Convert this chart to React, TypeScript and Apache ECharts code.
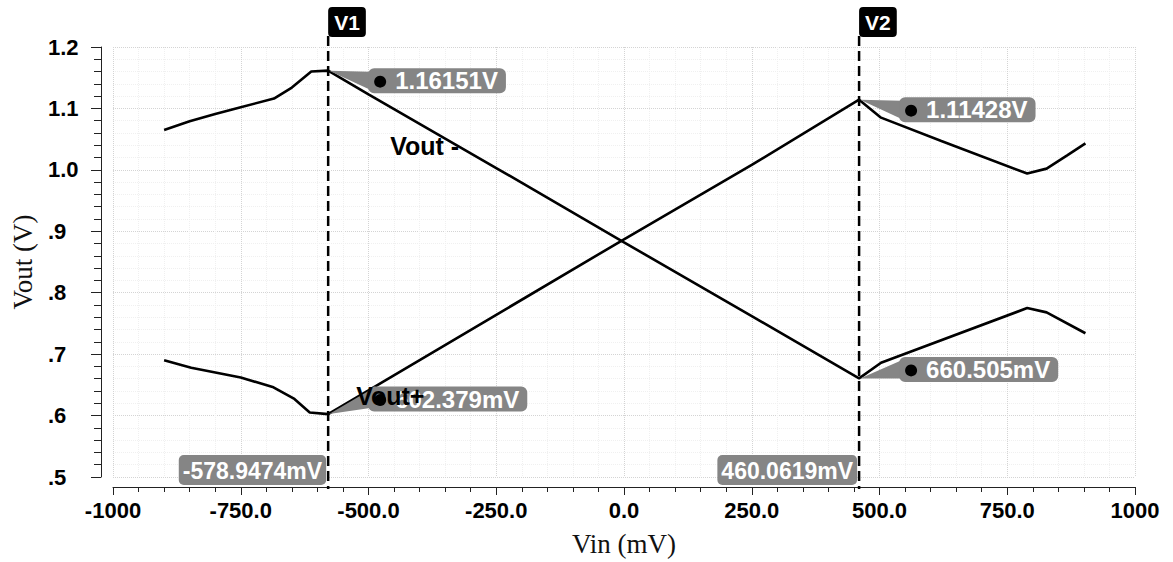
import React, { useEffect, useRef } from 'react';
import * as echarts from 'echarts';

// ---- axis ticks ----
const xTickValues = [-1000, -750, -500, -250, 0, 250, 500, 750, 1000];
const xTickLabels = ['-1000', '-750.0', '-500.0', '-250.0', '0.0', '250.0', '500.0', '750.0', '1000'];
const yTickValues = [0.5, 0.6, 0.7, 0.8, 0.9, 1.0, 1.1, 1.2];
const yTickLabels = ['.5', '.6', '.7', '.8', '.9', '1.0', '1.1', '1.2'];

// ---- series (Vin in mV, Vout in V) ----
const voutMinusX = [-900, -850, -800, -750, -685, -650, -612, -578.9474, -500, -250, 0, 250, 460.0619, 503, 789, 827, 903];
const voutMinusY = [1.065, 1.079, 1.091, 1.102, 1.116, 1.134, 1.16, 1.16151, 1.123, 1.003, 0.882, 0.762, 0.660505, 0.686, 0.775, 0.768, 0.734];
const voutPlusX = [-900, -847, -750, -686, -645, -615, -578.9474, -500, -250, 0, 250, 460.0619, 503, 621, 789, 827, 868, 903];
const voutPlusY = [0.69, 0.678, 0.662, 0.646, 0.627, 0.605, 0.602379, 0.641, 0.764, 0.887, 1.008, 1.11428, 1.085, 1.047, 0.994, 1.002, 1.024, 1.043];

// ---- cursors ----
const cursorNames = ['V1', 'V2'];
const cursorX = [-578.9474, 460.0619];
const cursorXLabels = ['-578.9474mV', '460.0619mV'];
const cursorUpperY = [1.16151, 1.11428];
const cursorUpperLabels = ['1.16151V', '1.11428V'];
const cursorLowerY = [0.602379, 0.660505];
const cursorLowerLabels = ['602.379mV', '660.505mV'];

const SANS = '"Liberation Sans", Arial, Helvetica, sans-serif';
const SERIF = '"Liberation Serif", "Times New Roman", serif';
const GRAY = '#858585';

export default function App() {
  const ref = useRef<HTMLDivElement>(null);

  useEffect(() => {
    if (!ref.current) return;
    const chart = echarts.init(ref.current, null, { renderer: 'svg' });
    const fmtX = (v: number) => {
      const i = xTickValues.findIndex((t) => Math.abs(t - v) < 1e-6);
      return i >= 0 ? xTickLabels[i] : '';
    };
    const fmtY = (v: number) => {
      const i = yTickValues.findIndex((t) => Math.abs(t - v) < 1e-6);
      return i >= 0 ? yTickLabels[i] : '';
    };
    const option: any = {
      animation: false,
      backgroundColor: '#ffffff',
      grid: { left: 113, right: 38, top: 47, bottom: 83, containLabel: false },
      xAxis: {
        type: 'value',
        min: -1000,
        max: 1000,
        interval: 250,
        offset: 10,
        name: 'Vin (mV)',
        nameLocation: 'middle',
        nameGap: 43,
        nameTextStyle: { fontFamily: SERIF, fontSize: 27, color: '#111' },
        axisLine: { show: true, onZero: false, lineStyle: { color: '#222', width: 1 } },
        axisTick: { show: true, inside: false, length: 8, lineStyle: { color: '#222' } },
        minorTick: { show: true, splitNumber: 5, length: 5, lineStyle: { color: '#222' } },
        axisLabel: { formatter: fmtX, fontFamily: SANS, fontWeight: 'bold', fontSize: 22, color: '#000', margin: 12 },
        splitLine: { show: true, lineStyle: { color: '#d4d4d4', type: 'dotted', width: 1 } },
        minorSplitLine: { show: true, lineStyle: { color: '#f0f0f0', type: 'dotted', width: 1 } },
      },
      yAxis: {
        type: 'value',
        min: 0.5,
        max: 1.2,
        interval: 0.1,
        offset: 12,
        name: 'Vout (V)',
        nameLocation: 'middle',
        nameGap: 65,
        nameTextStyle: { fontFamily: SERIF, fontSize: 27, color: '#111' },
        axisLine: { show: true, onZero: false, lineStyle: { color: '#222', width: 1 } },
        axisTick: { show: true, inside: false, length: 10, lineStyle: { color: '#222' } },
        minorTick: { show: true, splitNumber: 5, length: 7, lineStyle: { color: '#222' } },
        axisLabel: { formatter: fmtY, fontFamily: SANS, fontWeight: 'bold', fontSize: 22, color: '#000', margin: 53, align: 'left' },
        splitLine: { show: true, lineStyle: { color: '#d4d4d4', type: 'dotted', width: 1 } },
        minorSplitLine: { show: true, lineStyle: { color: '#f0f0f0', type: 'dotted', width: 1 } },
      },
      series: [
        {
          name: 'Vout -',
          type: 'line',
          data: voutMinusX.map((x, i) => [x, voutMinusY[i]]),
          showSymbol: false,
          symbol: 'none',
          lineStyle: { color: '#000', width: 2.6 },
          z: 3,
        },
        {
          name: 'Vout+',
          type: 'line',
          data: voutPlusX.map((x, i) => [x, voutPlusY[i]]),
          showSymbol: false,
          symbol: 'none',
          lineStyle: { color: '#000', width: 2.6 },
          z: 3,
        },
      ],
    };
    chart.setOption(option);

    const toPx = (x: number, y: number) => chart.convertToPixel({ gridIndex: 0 }, [x, y]) as number[];
    const axisY = toPx(0, 0.5)[1] + 10;
    const topY = 7;
    const graphics: any[] = [];

    const callout = (px: number, py: number, label: string, dy: number) => {
      const bx = px + 40;
      const by = py + dy;
      const h = 26;
      graphics.push({
        type: 'polygon',
        z: 20,
        shape: { points: [[px + 1, py], [bx + 2, by - h / 2 + 4], [bx + 2, by + h / 2 - 4]] },
        style: { fill: GRAY },
        silent: true,
      });
      graphics.push({
        type: 'text',
        z: 21,
        x: bx,
        y: by,
        style: {
          text: label,
          font: `bold 24px ${SANS}`,
          fill: '#ffffff',
          align: 'left',
          verticalAlign: 'middle',
          backgroundColor: GRAY,
          borderRadius: 6,
          padding: [1, 8, 0, 27],
        },
        silent: true,
      });
      graphics.push({
        type: 'circle',
        z: 22,
        shape: { cx: bx + 12, cy: by + 1, r: 6 },
        style: { fill: '#000' },
        silent: true,
      });
    };

    cursorX.forEach((cx, i) => {
      const px = toPx(cx, 0.5)[0];
      graphics.push({
        type: 'line',
        z: 15,
        shape: { x1: px, y1: topY + 29, x2: px, y2: axisY + 2 },
        style: { stroke: '#000', lineWidth: 2.5, lineDash: [10, 5] },
        silent: true,
      });
      graphics.push({
        type: 'text',
        z: 16,
        x: px,
        y: topY,
        style: {
          text: cursorNames[i],
          font: `bold 21px ${SANS}`,
          fill: '#ffffff',
          align: 'left',
          verticalAlign: 'top',
          backgroundColor: '#000',
          borderRadius: 4,
          padding: [5, 6, 4, 6],
        },
        silent: true,
      });
      graphics.push({
        type: 'text',
        z: 16,
        x: px - 2,
        y: axisY - 2,
        style: {
          text: cursorXLabels[i],
          font: `bold 23px ${SANS}`,
          fill: '#ffffff',
          align: 'right',
          verticalAlign: 'bottom',
          backgroundColor: GRAY,
          borderRadius: 5,
          padding: [4, 4, 3, 4],
        },
        silent: true,
      });
      const up = toPx(cx, cursorUpperY[i]);
      callout(up[0], up[1], cursorUpperLabels[i], 10);
      const lo = toPx(cx, cursorLowerY[i]);
      callout(lo[0], lo[1], cursorLowerLabels[i], i === 0 ? -15 : -9);
    });

    // series name labels, placed next to the V1 cursor
    const v1px = toPx(cursorX[0], 0.5)[0];
    graphics.push({
      type: 'text',
      z: 25,
      x: v1px + 62,
      y: 146,
      style: { text: 'Vout -', font: `bold 25px ${SANS}`, fill: '#000', align: 'left', verticalAlign: 'middle' },
      silent: true,
    });
    graphics.push({
      type: 'text',
      z: 25,
      x: v1px + 28,
      y: 396,
      style: { text: 'Vout+', font: `bold 25px ${SANS}`, fill: '#000', align: 'left', verticalAlign: 'middle' },
      silent: true,
    });

    chart.setOption({ graphic: graphics });
    return () => chart.dispose();
  }, []);

  return <div ref={ref} style={{ position: 'fixed', left: 0, top: 0, width: 1173, height: 562, background: '#fff' }} />;
}
